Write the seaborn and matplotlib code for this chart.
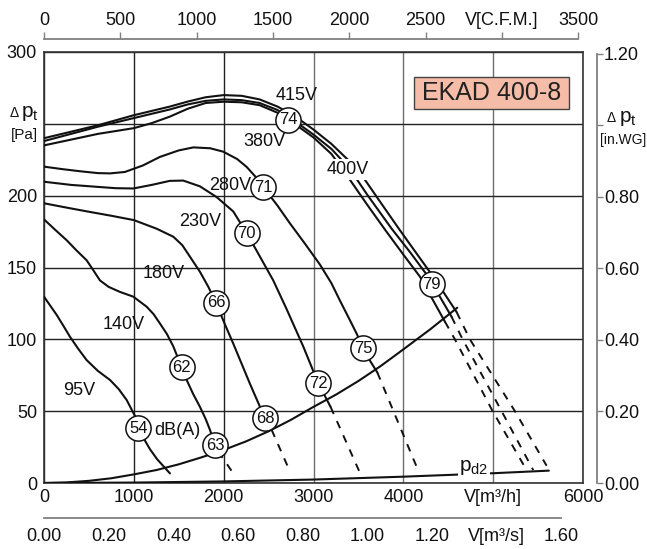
import matplotlib
matplotlib.use("Agg")
import matplotlib.pyplot as plt
from matplotlib.patches import Rectangle
import seaborn as sns

sns.set_style("white")
plt.rcParams['font.family'] = ['Liberation Sans', 'DejaVu Sans']
plt.rcParams['mathtext.fontset'] = 'custom'
plt.rcParams['mathtext.rm'] = 'Liberation Sans'
plt.rcParams['mathtext.it'] = 'Liberation Sans:italic'

# fan curves: V [m3/h] -> dp_t [Pa]
v_415 = [0, 300, 600, 800, 1000, 1200, 1400, 1600, 1800, 2000, 2200, 2400, 2600, 2800,
         3000, 3200, 3400, 3573, 3750, 3950, 4150, 4333, 4593]
p_415 = [240, 244.5, 249, 252.5, 256, 259, 262, 265.5, 268.5, 270, 269.5, 267, 262, 255,
         246, 236, 224, 211, 195, 177, 159.5, 143.6, 119]
v_400 = [0, 300, 600, 800, 1000, 1200, 1400, 1600, 1800, 2000, 2200, 2400, 2600, 2800,
         3000, 3200, 3400, 3600, 3870, 4077, 4277, 4537]
p_400 = [238, 243, 248, 251, 254, 257, 260, 263.5, 266, 267, 266.5, 264.5, 259.6, 251.5,
         242.5, 232.5, 219, 200.5, 177, 160.5, 143.6, 115.7]
v_380 = [0, 300, 600, 800, 1000, 1200, 1400, 1600, 1800, 2000, 2200, 2400, 2600, 2800,
         3000, 3200, 3406, 3600, 3800, 4000, 4185, 4463]
p_380 = [235, 239, 243, 245, 247, 250.5, 255, 260.5, 264.5, 265.4, 265, 263, 257.7, 249.5,
         240.5, 229, 211, 193.5, 176, 159, 143.6, 112.3]
v_280 = [0, 200, 400, 600, 735, 900, 1100, 1291, 1500, 1662, 1850, 1996, 2150, 2256, 2350,
         2441, 2600, 2738, 2900, 3072, 3200, 3294, 3400, 3480, 3554, 3630, 3710]
p_280 = [220.2, 218.5, 217, 215.7, 215.5, 216.5, 221, 227, 231.5, 233.6, 233, 230.6, 225.5,
         220, 213.5, 206, 193, 180.7, 167, 152, 139, 127, 114, 104, 93.7, 85, 77]
v_230 = [0, 300, 623, 800, 994, 1200, 1400, 1550, 1736, 1922, 2107, 2256, 2400, 2552,
         2701, 2886, 3053, 3190]
p_230 = [209.7, 207.5, 206, 205.2, 205, 207.5, 210.3, 210.5, 206.5, 199, 189, 174, 158,
         141, 121, 95, 69.4, 53]
v_180 = [0, 250, 500, 750, 1000, 1254, 1440, 1540, 1625, 1736, 1829, 1914, 2010, 2107,
         2200, 2293, 2460, 2534]
p_180 = [194.7, 191.7, 188.8, 186, 183, 177, 171.4, 165.5, 157.5, 147, 136.6, 125.5, 111,
         97, 83, 69, 45, 37]
v_140 = [0, 120, 252, 360, 475, 550, 623, 720, 846, 994, 1143, 1220, 1291, 1370, 1440,
         1532, 1588, 1660, 1736, 1800, 1848, 1903, 1940]
p_140 = [183.5, 176.5, 169, 162, 155, 148, 141, 136.5, 133, 129.7, 122.7, 117.5, 111,
         103.5, 95, 80.5, 71.7, 62, 53, 44.5, 36.9, 26.4, 22]
v_95 = [0, 141, 215, 289, 380, 474, 600, 735, 830, 920, 1013, 1070, 1124, 1180, 1260, 1402]
p_95 = [129.7, 117, 109.5, 101.8, 93.5, 85.6, 78, 71.7, 65.5, 57.8, 46.6, 37.5, 29.5,
        23.5, 16.5, 6.7]

# dashed continuation below the system curve
dv_415 = [4593, 4741, 5242, 5595]
dp_415 = [119, 100, 50, 12]
dv_400 = [4537, 4660, 5094, 5446]
dp_400 = [115.7, 100, 50, 9]
dv_380 = [4463, 4574, 4994, 5372]
dp_380 = [112.3, 100, 50, 9]
dv_280 = [3710, 4148]
dp_280 = [77, 11.3]
dv_230 = [3190, 3536]
dp_230 = [53, 4.4]
dv_180 = [2534, 2738]
dp_180 = [37, 8]
dv_140 = [1940, 2107]
dp_140 = [22, 6.7]

# system curve and dynamic pressure
sys_v = [0, 250, 500, 750, 1000, 1250, 1500, 1750, 2000, 2250, 2500, 2750, 3000, 3250,
         3500, 3750, 4000, 4150, 4300, 4450, 4600]
sys_p = [0, 0.4, 1.5, 3.3, 6, 9, 13, 17.8, 23, 29, 36, 44, 53, 61.5, 71, 81.5, 93, 100,
         107, 114.5, 122]
pd_v = [0, 1000, 2000, 3000, 4000, 5000, 5620]
pd_p = [0, 0.3, 1.1, 2.4, 4.4, 6.8, 8.6]

# sound levels dB(A)
db_v = [2719, 2441, 2256, 1914, 1532, 1050, 1903, 2460, 3053, 3554, 4315]
db_p = [253, 206, 173.8, 125.5, 80.5, 38, 26.4, 45, 69.4, 93.7, 138.5]
db_txt = ["74", "71", "70", "66", "62", "54", "63", "68", "72", "75", "79"]

# voltage labels
volt_txt = ["415V", "380V", "400V", "280V", "230V", "180V", "140V", "95V"]
volt_v = [2812, 2449, 3384, 2074, 1744, 1336, 890, 390]
volt_p = [269.5, 238, 218, 207, 182, 146, 110, 64.7]

W, H = 647, 549
fig = plt.figure(figsize=(W / 100, H / 100), dpi=100)
L, B = 44 / W, (H - 483) / H
AW, AH = 539 / W, 431 / H
ax = fig.add_axes([L, B, AW, AH])

solid = [(v_415, p_415), (v_400, p_400), (v_380, p_380), (v_280, p_280),
         (v_230, p_230), (v_180, p_180), (v_140, p_140), (v_95, p_95),
         (sys_v, sys_p), (pd_v, pd_p)]
for xs, ys in solid:
    sns.lineplot(x=xs, y=ys, ax=ax, color="#111111", lw=1.5, errorbar=None, zorder=3)

dashed = [(dv_415, dp_415), (dv_400, dp_400), (dv_380, dp_380), (dv_280, dp_280),
          (dv_230, dp_230), (dv_180, dp_180), (dv_140, dp_140)]
for xs, ys in dashed:
    sns.lineplot(x=xs, y=ys, ax=ax, color="#111111", lw=1.4, errorbar=None,
                 linestyle=(0, (4, 4)), zorder=3)

sns.scatterplot(x=db_v, y=db_p, ax=ax, s=330, facecolor="white",
                edgecolor="#111111", linewidth=1.1, zorder=5)
for v, p, t in zip(db_v, db_p, db_txt):
    ax.text(v, p, t, ha="center", va="center", fontsize=12, zorder=6, color="#111111")

for v, p, t in zip(volt_v, volt_p, volt_txt):
    kw = {}
    if t == "400V":
        kw["bbox"] = dict(fc="white", ec="none", pad=1.5)
    ax.text(v, p, t, ha="center", va="center", fontsize=13, zorder=4, color="#111111", **kw)

ax.text(1486, 36.3, "dB(A)", ha="center", va="center", fontsize=13, color="#111111")
ax.text(4786, 11, r"$\mathregular{p_{d2}}$", ha="center", va="center", fontsize=15,
        zorder=4, color="#111111", bbox=dict(fc="white", ec="none", pad=1))

ax.add_patch(Rectangle((4118, 260.3), 1725, 22.3, fc="#F5BCA8", ec="#444444", lw=1, zorder=4))
ax.text(4980, 271.3, "EKAD 400-8", ha="center", va="center", fontsize=18, zorder=5, color="#222222")

ax.set_xlim(0, 6000)
ax.set_ylim(0, 300)
ax.set_xticks([0, 1000, 2000, 3000, 4000, 5000, 6000])
ax.set_xticklabels(["0", "1000", "2000", "3000", "4000", "V[m³/h]", "6000"])
ax.set_yticks([0, 50, 100, 150, 200, 250, 300])
ax.set_yticklabels(["0", "50", "100", "150", "200", "", "300"])
ax.tick_params(length=0, labelsize=13, pad=5, colors="#111111")
ax.tick_params(axis="x", pad=4)
ax.grid(True, color="#222222", lw=1)
for i, gl in enumerate(ax.get_xgridlines()):
    if i >= 3:
        gl.set_color("#6e6e6e")
for s in ax.spines.values():
    s.set_color("#333333")
    s.set_linewidth(1.2)
ax.set_xlabel("")
ax.set_ylabel("")

# right axis in.WG
ax2 = ax.twinx()
ax2.set_ylim(0, 300 * 0.0040146)
ax2.set_yticks([0, 0.2, 0.4, 0.6, 0.8, 1.0, 1.2])
ax2.set_yticklabels(["0.00", "0.20", "0.40", "0.60", "0.80", "", "1.20"])
ax2.spines["right"].set_position(("outward", 10))
ax2.spines["right"].set_bounds(0, 1.2)
ax2.spines["right"].set_color("#808080")
ax2.spines["right"].set_linewidth(1.3)
for k in ["left", "top", "bottom"]:
    ax2.spines[k].set_visible(False)
ax2.tick_params(axis="y", length=4, width=1, color="#808080", labelsize=13, pad=1, labelcolor="#111111")

# top axis CFM
axt = fig.add_axes([L, (H - 39) / H, AW, 0.0001])
axt.set_xlim(0, 6000 / 1.699)
axt.set_xticks([0, 500, 1000, 1500, 2000, 2500, 3000, 3500])
axt.set_xticklabels(["0", "500", "1000", "1500", "2000", "2500", "V[C.F.M.]", "3500"])
axt.xaxis.tick_top()
axt.set_yticks([])
for k in ["left", "right", "bottom"]:
    axt.spines[k].set_visible(False)
axt.spines["top"].set_bounds(0, 3500)
axt.spines["top"].set_color("#808080")
axt.spines["top"].set_linewidth(1.3)
axt.tick_params(axis="x", direction="out", length=5, width=1, color="#808080", labelsize=13, pad=2, labelcolor="#111111")
axt.patch.set_alpha(0)

# bottom axis m3/s
axb = fig.add_axes([L, (H - 518) / H, AW, 0.0001])
axb.set_xlim(0, 6000 / 3600)
axb.set_xticks([0, 0.2, 0.4, 0.6, 0.8, 1.0, 1.2, 1.4, 1.6])
axb.set_xticklabels(["0.00", "0.20", "0.40", "0.60", "0.80", "1.00", "1.20", "V[m³/s]", "1.60"])
axb.set_yticks([])
for k in ["left", "right", "top"]:
    axb.spines[k].set_visible(False)
axb.spines["bottom"].set_bounds(0, 1.6)
axb.spines["bottom"].set_color("#808080")
axb.spines["bottom"].set_linewidth(1.3)
axb.tick_params(axis="x", direction="out", length=5, width=1, color="#808080", labelsize=13, pad=2, labelcolor="#111111")
axb.patch.set_alpha(0)

# axis captions
def px(x, y):
    return x / W, 1 - y / H

fig.text(*px(10, 117), "Δ", fontsize=10, va="baseline", ha="left", color="#111111")
fig.text(*px(21, 117), r"$\mathregular{p_t}$", fontsize=15, va="baseline", ha="left", color="#111111")
fig.text(*px(24, 135), "[Pa]", fontsize=11, va="center", ha="center", color="#111111")
fig.text(*px(607, 122), "Δ", fontsize=10, va="baseline", ha="left", color="#111111")
fig.text(*px(619, 122), r"$\mathregular{p_t}$", fontsize=15, va="baseline", ha="left", color="#111111")
fig.text(*px(623, 140), "[in.WG]", fontsize=10, va="center", ha="center", color="#111111")

fig.savefig("out.png", dpi=100)
